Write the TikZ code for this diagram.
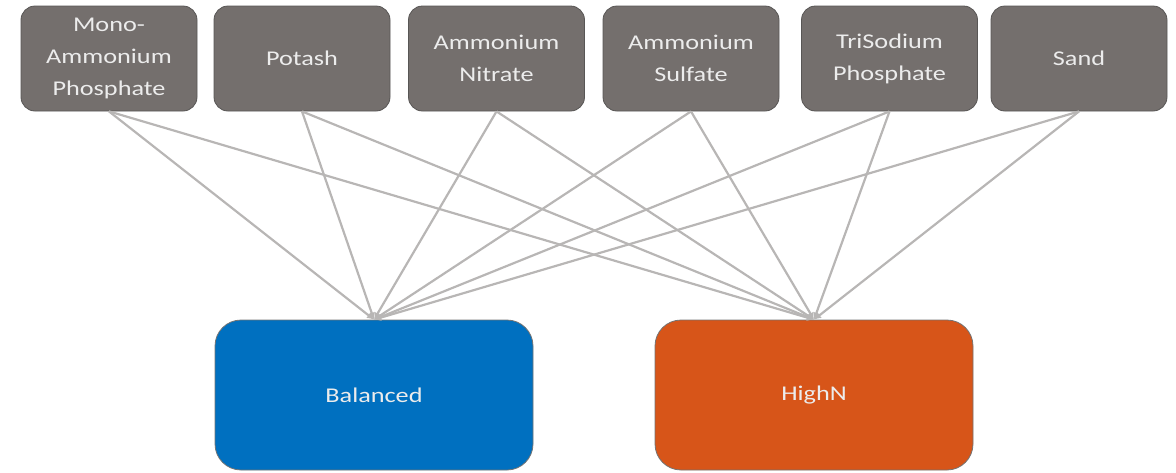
\documentclass[tikz,border=0pt]{standalone}
\usepackage{fontspec}
\newfontfamily\boxfont[FakeStretch=1.25]{Carlito}
\usetikzlibrary{arrows.meta}
\definecolor{stoneGray}{RGB}{116,111,109}
\definecolor{stoneEdge}{RGB}{88,86,85}
\definecolor{mixBlue}{RGB}{0,112,192}
\definecolor{mixOrange}{RGB}{215,85,25}
\definecolor{linkGray}{RGB}{184,182,181}
\definecolor{labelWhite}{RGB}{236,236,236}
\begin{document}
\begin{tikzpicture}[x=1pt,y=-1pt,
  ingredient/.style={draw=stoneEdge, line width=0.8pt, fill=stoneGray, rounded corners=14pt,
    minimum width=176pt, minimum height=105pt, inner sep=0pt, align=center,
    text=labelWhite, font=\boxfont\fontsize{21}{32}\selectfont},
  blend/.style={draw=gray!90!black, line width=0.8pt, rounded corners=26pt,
    minimum width=318pt, minimum height=150pt, inner sep=0pt,
    text=labelWhite, font=\boxfont\fontsize{21}{32}\selectfont},
  link/.style={draw=linkGray, line width=2.2pt, -{Latex[length=7pt,width=7pt]}}]
\useasboundingbox (0,0) rectangle (1176,472);
% ingredients
\node[ingredient] (map) at (109,58.5) {Mono-\\Ammonium\\Phosphate};
\node[ingredient] (pot) at (302,58.5) {Potash};
\node[ingredient] (an)  at (496.5,58.5) {Ammonium\\Nitrate};
\node[ingredient] (as)  at (691,58.5) {Ammonium\\Sulfate};
\node[ingredient] (tsp) at (889.5,58.5) {TriSodium\\Phosphate};
\node[ingredient] (sand) at (1079,58.5) {Sand};
% blends
\node[blend, fill=mixBlue] (bal) at (374,395) {Balanced};
\node[blend, fill=mixOrange] (hin) at (814,395) {HighN};
% every ingredient feeds both blends
\foreach \s in {map,pot,an,as,tsp,sand}{
  \draw[link] (\s.south) -- (bal.north);
  \draw[link] (\s.south) -- (hin.north);
}
\end{tikzpicture}
\end{document}
